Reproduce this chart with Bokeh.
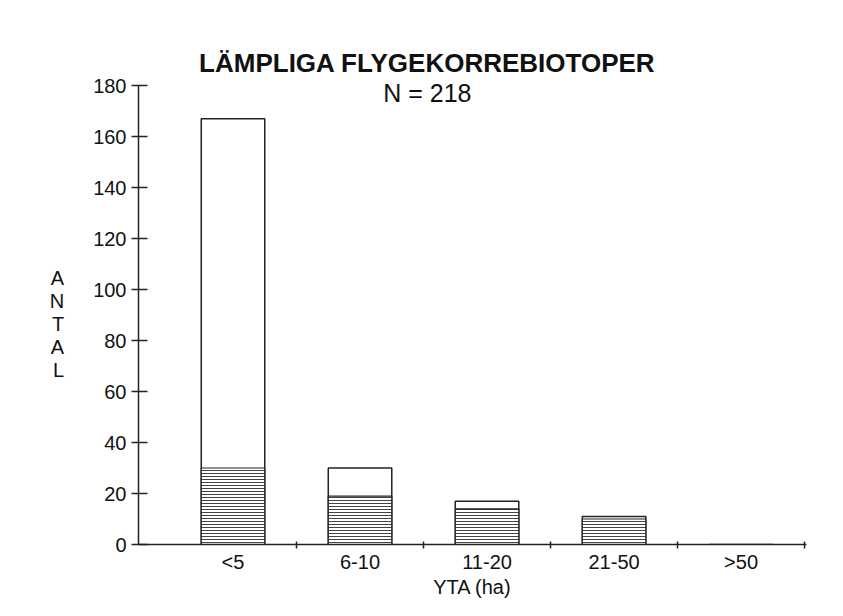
from bokeh.plotting import figure
from bokeh.models import FixedTicker, Label, Range1d, LinearAxis
from bokeh.embed import file_html
from bokeh.resources import INLINE

# ---- data ----
categories = ["<5", "6-10", "11-20", "21-50", ">50"]
totals = [167, 30, 17, 11, 0]
hatched = [30, 19, 14, 10, 0]
y_ticks = [0, 20, 40, 60, 80, 100, 120, 140, 160, 180]
title_text = "LÄMPLIGA FLYGEKORREBIOTOPER"
subtitle_text = "N = 218"
y_label = "ANTAL"
x_label = "YTA (ha)"

x_pos = [i + 0.5 for i in range(len(categories))]
boundaries = [i + 1 for i in range(len(categories))]

FONT = "Liberation Sans"
INK = "#222222"

p = figure(frame_width=668, frame_height=510,
           x_range=Range1d(-0.244, 5.015), y_range=Range1d(0, 200),
           output_backend="svg", toolbar_location=None,
           x_axis_location=None, y_axis_location=None,
           min_border_left=138, min_border_right=21, min_border_top=34,
           min_border_bottom=40, background_fill_color="white",
           border_fill_color="white")
p.outline_line_color = None
p.xgrid.visible = False
p.ygrid.visible = False

# bars: full outline then hatched lower part
p.vbar(x=x_pos, width=0.5, bottom=0, top=totals, fill_color="white",
       line_color=INK, line_width=1.5)
p.vbar(x=x_pos, width=0.5, bottom=0, top=hatched, fill_color="white",
       hatch_pattern="horizontal_line", hatch_scale=3.0, hatch_weight=1,
       hatch_color="#444444", line_color=INK, line_width=1.2)

# x axis
xaxis = LinearAxis(ticker=FixedTicker(ticks=x_pos, minor_ticks=boundaries),
                   major_label_overrides={x: c for x, c in zip(x_pos, categories)},
                   axis_label=x_label)
xaxis.major_tick_in = 0
xaxis.major_tick_out = 0
xaxis.minor_tick_in = 3
xaxis.minor_tick_out = 4
xaxis.minor_tick_line_color = INK
xaxis.minor_tick_line_width = 1.5
xaxis.axis_line_color = INK
xaxis.axis_line_width = 1.5
xaxis.major_label_standoff = 2
xaxis.major_label_text_font = FONT
xaxis.major_label_text_font_size = "20px"
xaxis.major_label_text_color = "#111111"
xaxis.axis_label_text_font = FONT
xaxis.axis_label_text_font_size = "20px"
xaxis.axis_label_text_font_style = "normal"
xaxis.axis_label_text_color = "#111111"
xaxis.axis_label_standoff = 0
p.add_layout(xaxis, "below")

# y axis
yaxis = LinearAxis(ticker=FixedTicker(ticks=y_ticks, minor_ticks=[]),
                   axis_label="\n".join([" ", " ", " "] + list(y_label)),
                   bounds=(0, 180))
yaxis.axis_label_orientation = "horizontal"
yaxis.major_tick_in = 9
yaxis.major_tick_out = 7
yaxis.major_tick_line_color = INK
yaxis.major_tick_line_width = 1.5
yaxis.axis_line_color = INK
yaxis.axis_line_width = 1.5
yaxis.major_label_standoff = 5
yaxis.major_label_text_font = FONT
yaxis.major_label_text_font_size = "20px"
yaxis.major_label_text_color = "#111111"
yaxis.axis_label_text_font = FONT
yaxis.axis_label_text_font_size = "20px"
yaxis.axis_label_text_font_style = "normal"
yaxis.axis_label_text_color = "#111111"
yaxis.axis_label_text_line_height = 1.05
yaxis.axis_label_standoff = 26
p.add_layout(yaxis, "left")

p.add_layout(Label(x=2.03, y=189.0, text=title_text, text_align="center",
                   text_baseline="alphabetic", text_font=FONT,
                   text_font_size="26px", text_font_style="bold",
                   text_color="#111111"))
p.add_layout(Label(x=2.03, y=176.9, text=subtitle_text, text_align="center",
                   text_baseline="alphabetic", text_font=FONT,
                   text_font_size="25px", text_color="#111111"))

open("out.html", "w").write(file_html(p, INLINE))
